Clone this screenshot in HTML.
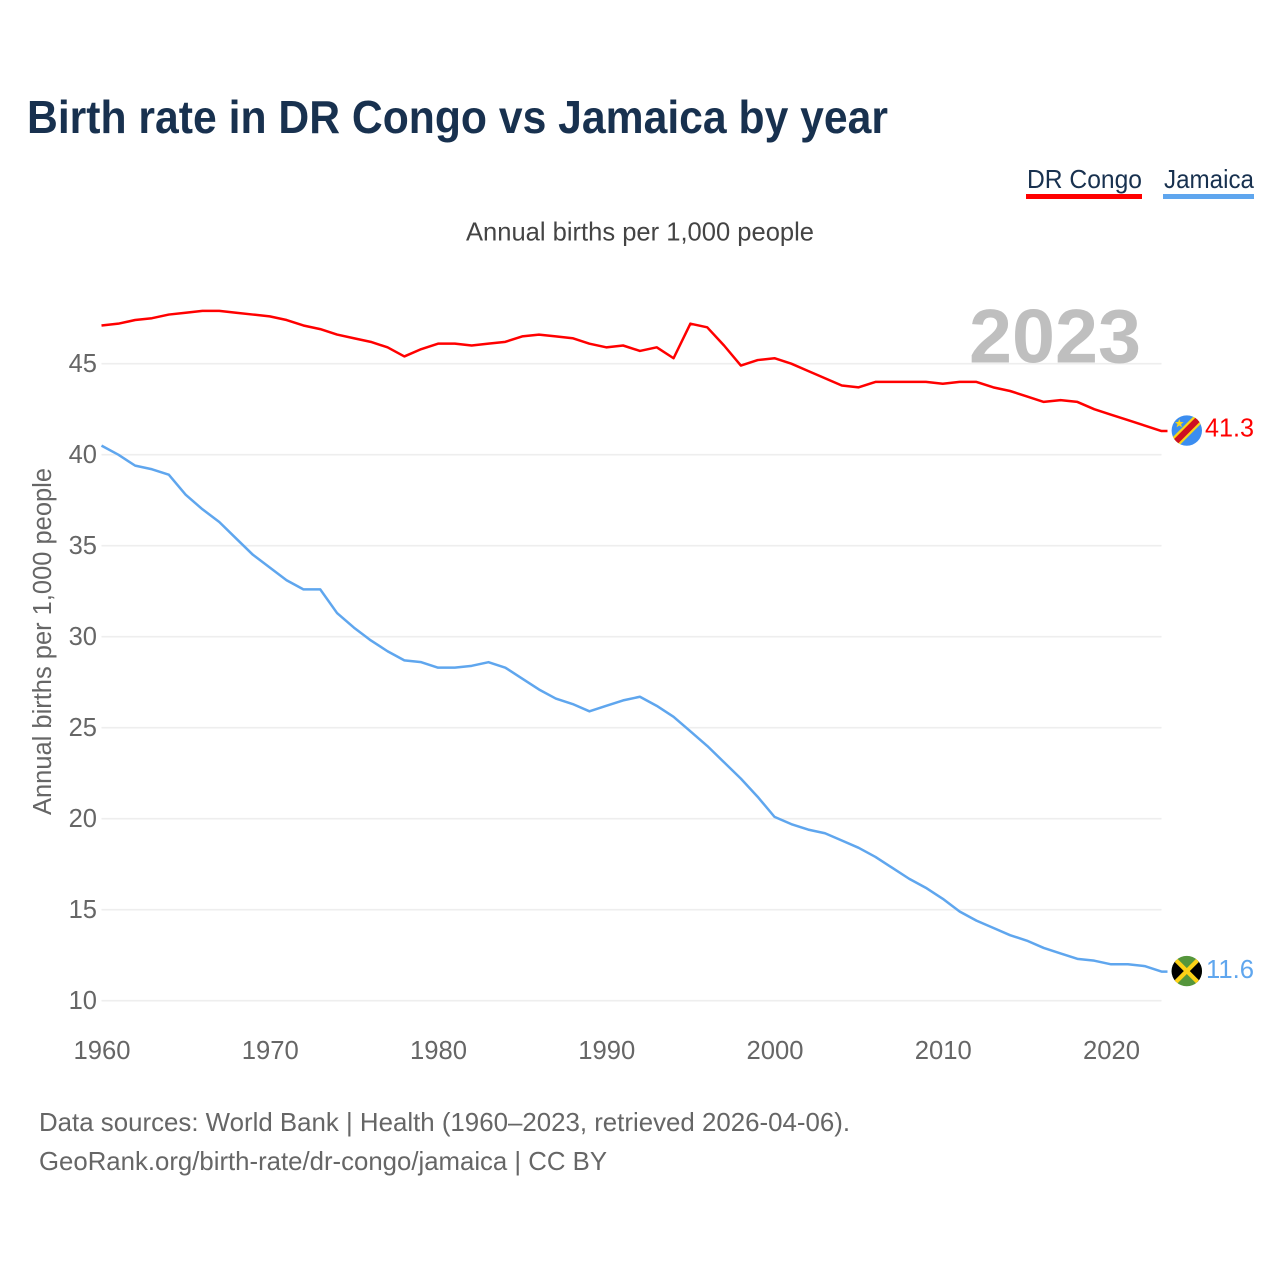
<!DOCTYPE html>
<html lang="en">
<head>
<meta charset="utf-8">
<title>Birth rate in DR Congo vs Jamaica by year</title>
<style>
html,body{margin:0;padding:0;background:#fff;width:1280px;height:1280px;overflow:hidden}
svg{display:block;font-family:"Liberation Sans",sans-serif}
</style>
</head>
<body>
<svg id="chart" width="1280" height="1280" viewBox="0 0 1280 1280" xmlns="http://www.w3.org/2000/svg">
  <defs>
    <clipPath id="clip-cd"><circle id="clip-cd-c" r="15.2"></circle></clipPath>
    <clipPath id="clip-jm"><circle id="clip-jm-c" r="15.2"></circle></clipPath>
  </defs>
  <text x="27" y="133" font-size="46" font-weight="700" fill="#18314f" textLength="861" lengthAdjust="spacingAndGlyphs">Birth rate in DR Congo vs Jamaica by year</text>

  <g>
    <text x="1027" y="188" font-size="26" fill="#18314f" textLength="115" lengthAdjust="spacingAndGlyphs">DR Congo</text>
    <rect x="1026" y="194" width="116" height="5" fill="#ff0000"></rect>
  </g>
  <g>
    <text x="1164" y="188" font-size="26" fill="#18314f" textLength="90" lengthAdjust="spacingAndGlyphs">Jamaica</text>
    <rect x="1163" y="194" width="91" height="5" fill="#5fa6ee"></rect>
  </g>

  <text x="466" y="240.5" font-size="26" fill="#444" textLength="348" lengthAdjust="spacingAndGlyphs">Annual births per 1,000 people</text>

  <g id="grid"></g>
  <g id="yticks"></g>
  <g id="xticks"></g>

  <text transform="translate(51,815) rotate(-90)" font-size="25.5" fill="#666" textLength="347" lengthAdjust="spacingAndGlyphs">Annual births per 1,000 people</text>

  <text id="year-label" x="969" y="362.5" font-size="76" font-weight="700" fill="#bfbfbf" textLength="172" lengthAdjust="spacingAndGlyphs"></text>

  <g id="series"></g>

  <g id="flag-cd">
    <g clip-path="url(#clip-cd)">
      <rect x="1171" y="0" width="32" height="1280" fill="#3b8df0" id="cd-bg"></rect>
      <line id="cd-y" stroke="#f7d618" stroke-width="10.5"></line>
      <line id="cd-r" stroke="#ce1021" stroke-width="6"></line>
      <polygon id="cd-star" fill="#f7d618"></polygon>
    </g>
  </g>
  <g id="flag-jm">
    <g clip-path="url(#clip-jm)">
      <rect id="jm-bg" x="1171" width="32" height="32" fill="#55963c"></rect>
      <polygon id="jm-l" fill="#000"></polygon>
      <polygon id="jm-r" fill="#000"></polygon>
      <line id="jm-a" stroke="#fcd116" stroke-width="4.2"></line>
      <line id="jm-b" stroke="#fcd116" stroke-width="4.2"></line>
    </g>
  </g>

  <text id="value-cd" x="1254" font-size="26" fill="#ff0000" text-anchor="end" textLength="49" lengthAdjust="spacingAndGlyphs"></text>
  <text id="value-jm" x="1254" font-size="26" fill="#5fa6ee" text-anchor="end" textLength="48" lengthAdjust="spacingAndGlyphs"></text>

  <text x="39" y="1131" font-size="26" fill="#666" textLength="811" lengthAdjust="spacingAndGlyphs">Data sources: World Bank | Health (1960–2023, retrieved 2026-04-06).</text>
  <text x="39" y="1170" font-size="26" fill="#666" textLength="568" lengthAdjust="spacingAndGlyphs">GeoRank.org/birth-rate/dr-congo/jamaica | CC BY</text>
</svg>
<script>
const startYear = 1960;
const drCongo = [47.1,47.2,47.4,47.5,47.7,47.8,47.9,47.9,47.8,47.7,47.6,47.4,47.1,46.9,46.6,46.4,46.2,45.9,45.4,45.8,46.1,46.1,46.0,46.1,46.2,46.5,46.6,46.5,46.4,46.1,45.9,46.0,45.7,45.9,45.3,47.2,47.0,46.0,44.9,45.2,45.3,45.0,44.6,44.2,43.8,43.7,44.0,44.0,44.0,44.0,43.9,44.0,44.0,43.7,43.5,43.2,42.9,43.0,42.9,42.5,42.2,41.9,41.6,41.3];
const jamaica = [40.5,40.0,39.4,39.2,38.9,37.8,37.0,36.3,35.4,34.5,33.8,33.1,32.6,32.6,31.3,30.5,29.8,29.2,28.7,28.6,28.3,28.3,28.4,28.6,28.3,27.7,27.1,26.6,26.3,25.9,26.2,26.5,26.7,26.2,25.6,24.8,24.0,23.1,22.2,21.2,20.1,19.7,19.4,19.2,18.8,18.4,17.9,17.3,16.7,16.2,15.6,14.9,14.4,14.0,13.6,13.3,12.9,12.6,12.3,12.2,12.0,12.0,11.9,11.6];
const yTickValues = [10,15,20,25,30,35,40,45];
const xTickYears = [1960,1970,1980,1990,2000,2010,2020];

const NS = 'http://www.w3.org/2000/svg';
const PLOT_LEFT = 101.5, PLOT_RIGHT = 1161.5;
const lastYear = startYear + drCongo.length - 1;
function xScale(year){ return PLOT_LEFT + (year - startYear) * (PLOT_RIGHT - PLOT_LEFT) / 63; }
function yScale(v){ return 1000.7 - (v - 10) * 18.2; }
function make(tag, attrs, parent){
  const el = document.createElementNS(NS, tag);
  for (const k in attrs) el.setAttribute(k, attrs[k]);
  parent.appendChild(el);
  return el;
}
const grid = document.getElementById('grid');
const yticks = document.getElementById('yticks');
yTickValues.forEach(function(v){
  const line = make('line', {x1:PLOT_LEFT, x2:PLOT_RIGHT, y1:yScale(v), y2:yScale(v), stroke:'#eeeeee', 'stroke-width':1.6}, grid);
  
  
  const t = make('text', {x:97, y:yScale(v)+8.5, 'font-size':25.5, fill:'#666', 'text-anchor':'end'}, yticks);
  
  
  t.textContent = v;
});
const xticks = document.getElementById('xticks');
xTickYears.forEach(function(y){
  const t = make('text', {x:xScale(y)+0.5, y:1059, 'font-size':25.5, fill:'#666', 'text-anchor':'middle', textLength:57, lengthAdjust:'spacingAndGlyphs'}, xticks);
  
  
  t.textContent = y;
});
function pathFor(vals){
  let d = vals.map(function(v,i){ return (i?'L':'M') + xScale(startYear+i).toFixed(2) + ' ' + yScale(v).toFixed(2); }).join(' ');
  d += ' L' + (PLOT_RIGHT+6) + ' ' + yScale(vals[vals.length-1]).toFixed(2);
  return d;
}
const series = document.getElementById('series');
const lineCd = make('path', {d:pathFor(drCongo), fill:'none', stroke:'#ff0000', 'stroke-width':2.5, 'stroke-linejoin':'round'}, series);


const lineJm = make('path', {d:pathFor(jamaica), fill:'none', stroke:'#5fa6ee', 'stroke-width':2.5, 'stroke-linejoin':'round'}, series);



document.getElementById('year-label').textContent = lastYear;

const FX = 1186.8;
const cdLast = drCongo[drCongo.length-1], jmLast = jamaica[jamaica.length-1];
const cy1 = yScale(cdLast) - 0.5, cy2 = yScale(jmLast) - 0.5;
function set(id, attrs){ const el = document.getElementById(id); for (const k in attrs) el.setAttribute(k, attrs[k]); }
set('clip-cd-c', {cx:FX, cy:cy1});
set('clip-jm-c', {cx:FX, cy:cy2});
set('cd-y', {x1:FX-20, y1:cy1+20, x2:FX+20, y2:cy1-20});
set('cd-r', {x1:FX-20, y1:cy1+20, x2:FX+20, y2:cy1-20});
const pts = [];
for (let i=0;i<10;i++){
  const r = i%2 ? 1.9 : 4.6, a = -Math.PI/2 + i*Math.PI/5;
  pts.push((FX-7.5+r*Math.cos(a)).toFixed(2)+','+(cy1-7+r*Math.sin(a)).toFixed(2));
}
set('cd-star', {points:pts.join(' ')});
set('jm-bg', {y:cy2-16});
set('jm-l', {points:(FX-16)+','+(cy2-16)+' '+FX+','+cy2+' '+(FX-16)+','+(cy2+16)});
set('jm-r', {points:(FX+16)+','+(cy2-16)+' '+FX+','+cy2+' '+(FX+16)+','+(cy2+16)});
set('jm-a', {x1:FX-16, y1:cy2-16, x2:FX+16, y2:cy2+16});
set('jm-b', {x1:FX-16, y1:cy2+16, x2:FX+16, y2:cy2-16});
const vCd = document.getElementById('value-cd');
vCd.setAttribute('y', yScale(cdLast)+5.5);
vCd.textContent = cdLast.toFixed(1);
const vJm = document.getElementById('value-jm');
vJm.setAttribute('y', yScale(jmLast)+6.5);
vJm.textContent = jmLast.toFixed(1);
</script>
</body>
</html>
